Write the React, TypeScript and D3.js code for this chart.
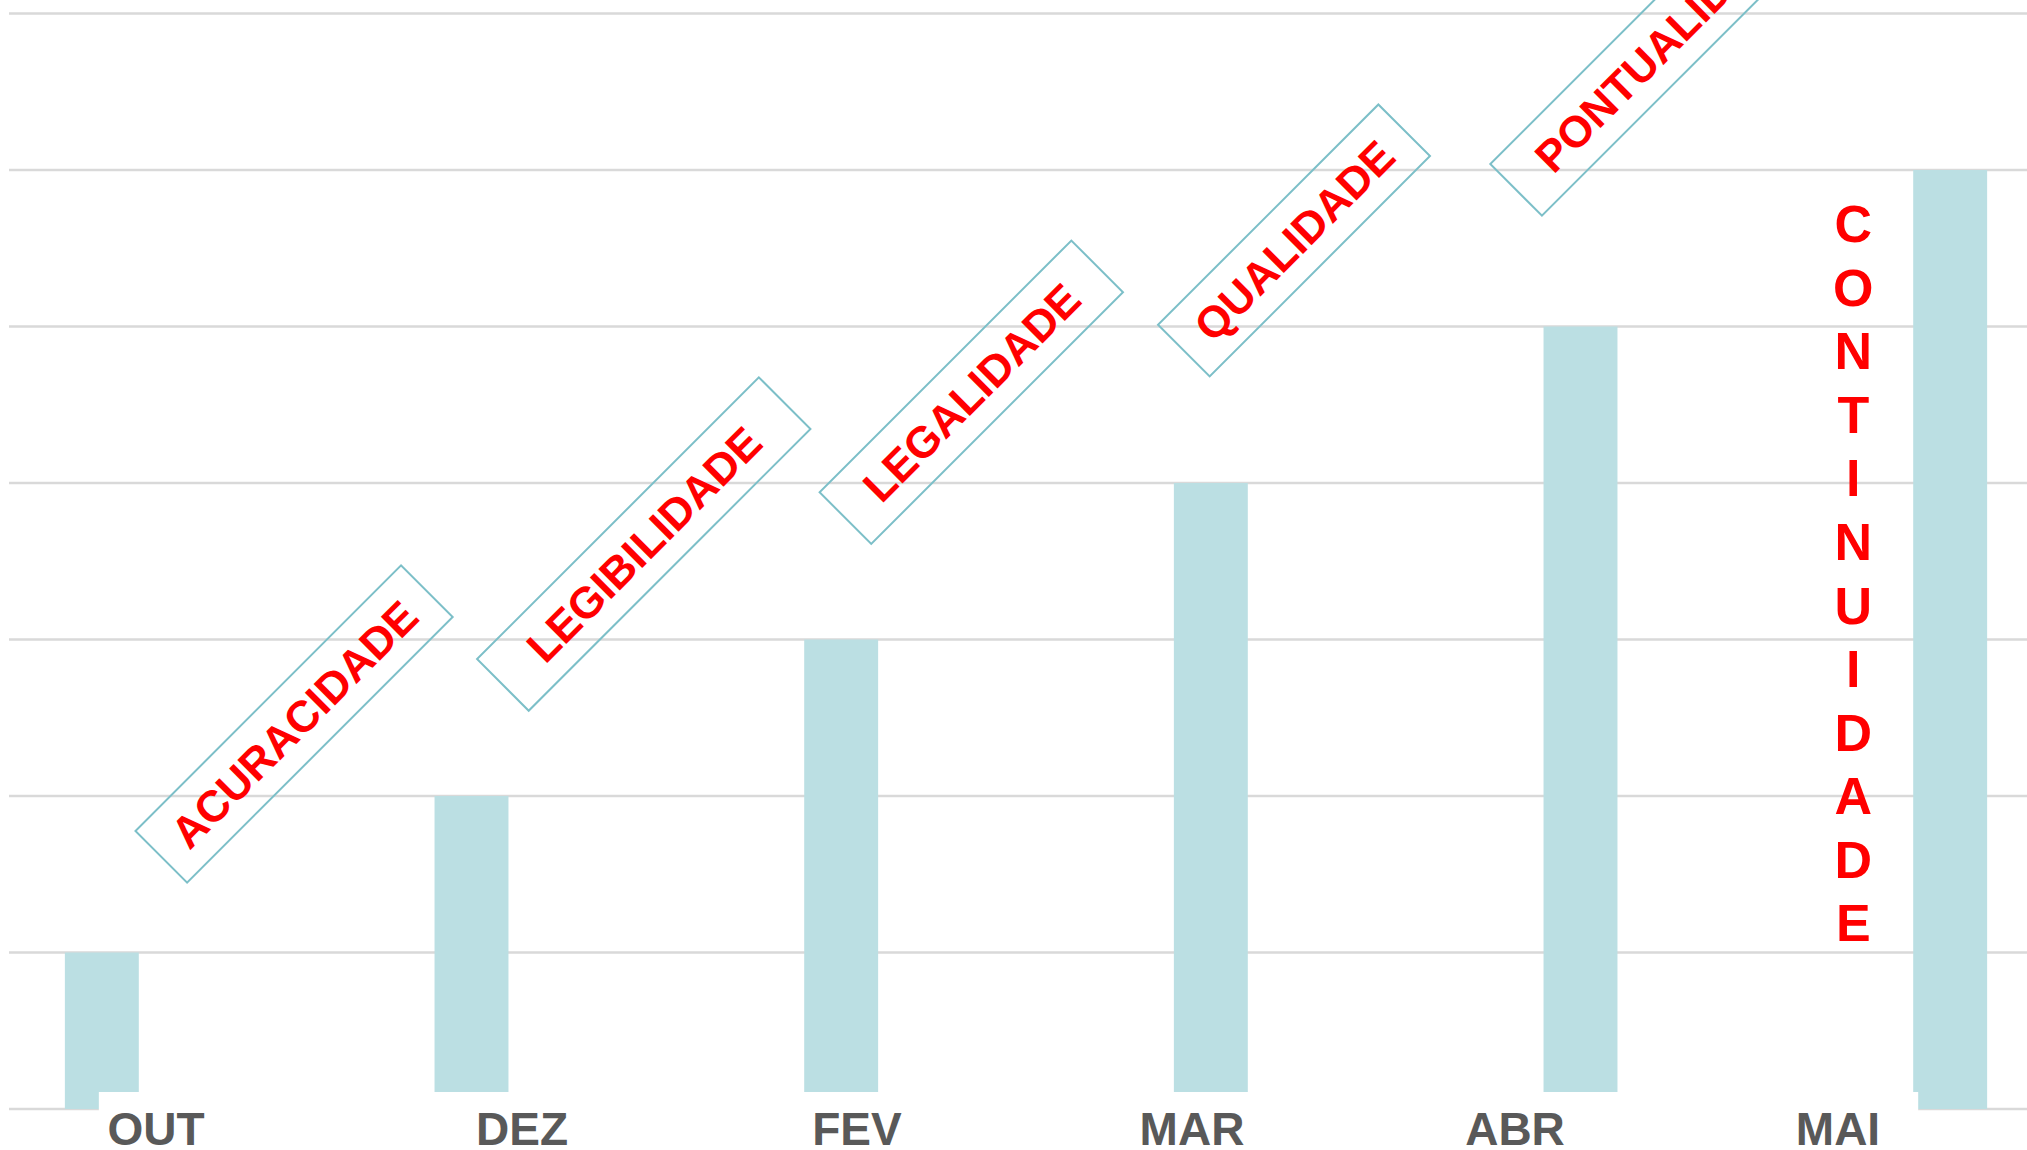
import React, { useRef, useEffect } from "react";
import * as d3 from "d3";

const months = ["OUT", "DEZ", "FEV", "MAR", "ABR", "MAI"];
const scores = [1, 2, 3, 4, 5, 6];
const gridValues = [0, 1, 2, 3, 4, 5, 6, 7];

const tags = ["ACURACIDADE", "LEGIBILIDADE", "LEGALIDADE", "QUALIDADE", "PONTUALIDADE"];
// where each tag box is centred, in chart units: month slot (0 = OUT) and value
const tagSlot = [0.52, 1.466, 2.352, 3.225, 4.231];
const tagValue = [2.46, 3.61, 4.58, 5.55, 6.83];
// blank space left around each word inside its box
const tagPad = [24, 44, 35, 25, 37];

// last one is written letter by letter, top to bottom
const stackedTag = "CONTINUIDADE";
const stackedSlot = 4.738;
const stackedFrom = 5.66;
const stackedTo = 1.19;

const W = 2027;
const H = 1150;
const FONT = "'Liberation Sans', Arial, sans-serif";

const App = () => {
  const svgRef = useRef<SVGSVGElement>(null);

  useEffect(() => {
    const svg = d3.select(svgRef.current);
    svg.selectAll("*").remove();

    const x = d3
      .scaleBand<string>()
      .domain(months)
      .range([-83, 2135])
      .paddingInner(0.8)
      .paddingOuter(0.4);
    const y = d3.scaleLinear().domain([0, 7]).range([1109, 13.5]);
    const half = x.bandwidth() / 2;
    const slot = d3
      .scaleLinear()
      .domain([0, months.length - 1])
      .range([x(months[0])! + half, x(months[months.length - 1])! + half]);
    // month names sit in their own text box, spaced a little tighter to the right
    const labelX = d3.scaleLinear().domain([0, 1, 3, 5]).range([156, 522, 1192, 1838]);

    // gridlines
    svg
      .append("g")
      .selectAll("line")
      .data(gridValues)
      .join("line")
      .attr("x1", 9)
      .attr("x2", W)
      .attr("y1", (d) => y(d))
      .attr("y2", (d) => y(d))
      .attr("stroke", "#d9d9d9")
      .attr("stroke-width", 2.5);

    // bars
    svg
      .append("g")
      .selectAll("rect")
      .data(months)
      .join("rect")
      .attr("x", (d) => x(d)!)
      .attr("y", (d, i) => y(scores[i]))
      .attr("width", x.bandwidth())
      .attr("height", (d, i) => y(0) - y(scores[i]))
      .attr("fill", "#bbdfe3");

    // the month text box sits over the foot of the bars
    const boxLeft = x(months[0])! + half - 3;
    const boxRight = x(months[months.length - 1])! + 5;
    svg
      .append("rect")
      .attr("x", boxLeft)
      .attr("y", y(0) - 17)
      .attr("width", boxRight - boxLeft)
      .attr("height", 60)
      .attr("fill", "#ffffff");

    svg
      .append("g")
      .selectAll("text")
      .data(months)
      .join("text")
      .attr("x", (d, i) => labelX(i))
      .attr("y", 1145)
      .attr("text-anchor", "middle")
      .attr("font-family", FONT)
      .attr("font-weight", "bold")
      .attr("font-size", 46)
      .attr("fill", "#595959")
      .text((d) => d);

    // rotated tag boxes
    const tag = svg
      .append("g")
      .selectAll("g")
      .data(tags)
      .join("g")
      .attr(
        "transform",
        (d, i) => `translate(${slot(tagSlot[i])},${y(tagValue[i])}) rotate(-45)`
      );

    const boxes = tag
      .append("rect")
      .attr("fill", "none")
      .attr("stroke", "#7cbfc8")
      .attr("stroke-width", 2);

    const words = tag
      .append("text")
      .attr("text-anchor", "middle")
      .attr("dy", "0.36em")
      .attr("font-family", FONT)
      .attr("font-weight", "bold")
      .attr("font-size", 44)
      .attr("fill", "#ff0000")
      .text((d) => d);

    const lens = words.nodes().map((n) => (n as SVGTextElement).getComputedTextLength());
    boxes
      .attr("x", (d, i) => -lens[i] / 2 - tagPad[i])
      .attr("y", -36.5)
      .attr("width", (d, i) => lens[i] + 2 * tagPad[i])
      .attr("height", 73);

    // stacked letters
    const letters = stackedTag.split("");
    const letterY = d3
      .scalePoint<number>()
      .domain(letters.map((_, i) => i))
      .range([y(stackedFrom), y(stackedTo)]);
    svg
      .append("g")
      .selectAll("text")
      .data(letters)
      .join("text")
      .attr("x", slot(stackedSlot))
      .attr("y", (d, i) => letterY(i)!)
      .attr("dy", "0.36em")
      .attr("text-anchor", "middle")
      .attr("font-family", FONT)
      .attr("font-weight", "bold")
      .attr("font-size", 52)
      .attr("fill", "#ff0000")
      .text((d) => d);
  }, []);

  return (
    <svg
      ref={svgRef}
      width={W}
      height={H}
      style={{ position: "absolute", left: 0, top: 0, background: "#ffffff" }}
    />
  );
};

export default App;
